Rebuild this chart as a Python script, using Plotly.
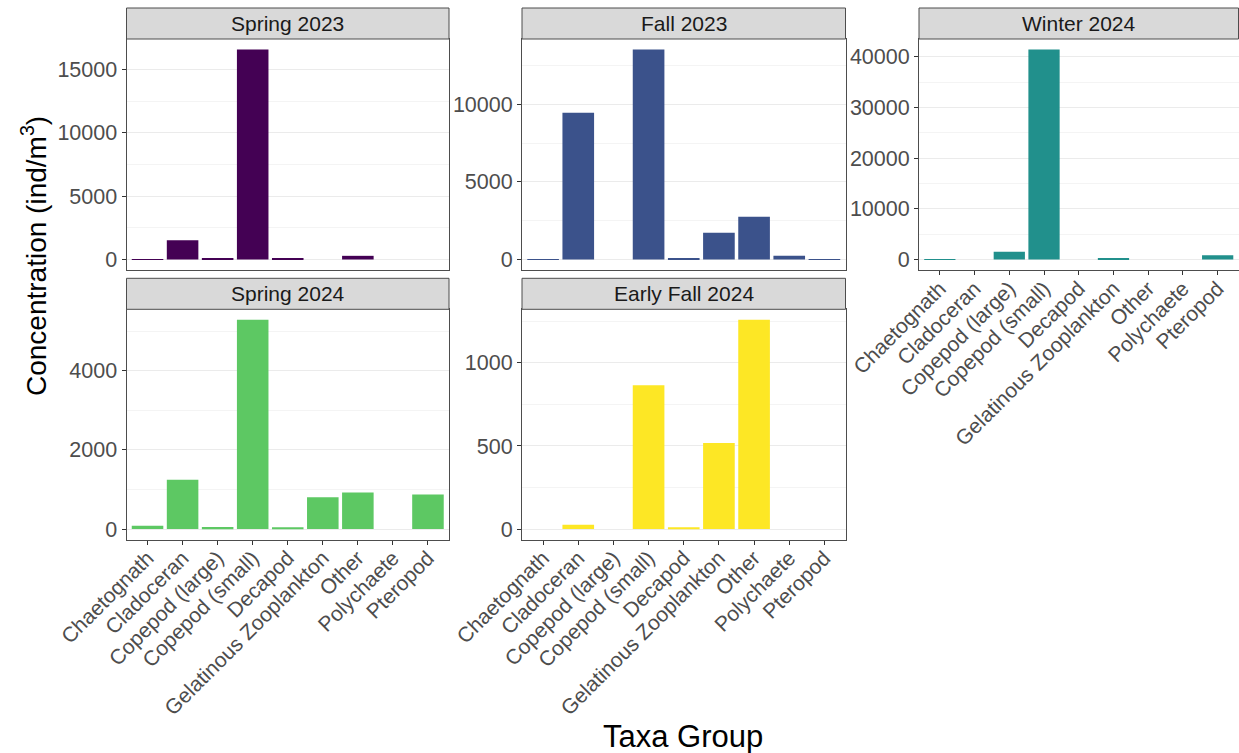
import plotly.graph_objects as go

# Taxa groups on the x axis (same order in every panel)
taxa = ["Chaetognath", "Cladoceran", "Copepod (large)", "Copepod (small)", "Decapod",
        "Gelatinous Zooplankton", "Other", "Polychaete", "Pteropod"]

# Concentration (ind/m^3) per taxa group for each sampling season
spring_2023 = [20, 1520, 45, 16580, 85, 0, 290, 0, 0]
fall_2023 = [15, 9460, 0, 13540, 90, 1720, 2750, 240, 15]
winter_2024 = [80, 0, 1510, 41420, 0, 200, 0, 0, 855]
spring_2024 = [85, 1245, 50, 5290, 25, 805, 925, 0, 875]
early_fall_2024 = [0, 26, 0, 866, 10, 518, 1260, 0, 0]

seasons = ["Spring 2023", "Fall 2023", "Winter 2024", "Spring 2024", "Early Fall 2024"]
season_values = [spring_2023, fall_2023, winter_2024, spring_2024, early_fall_2024]
season_colors = ["#440154", "#3B528B", "#21908C", "#5DC863", "#FDE725"]

# y-axis major / minor gridline values per panel
major_ticks = [[0, 5000, 10000, 15000], [0, 5000, 10000], [0, 10000, 20000, 30000, 40000],
               [0, 2000, 4000], [0, 500, 1000]]
minor_ticks = [[2500, 7500, 12500], [2500, 7500, 12500], [5000, 15000, 25000, 35000],
               [1000, 3000, 5000], [250, 750, 1250]]

W, H = 1239, 753
FONT = "Liberation Sans, Arial, sans-serif"

# panel geometry in pixels: (left, right) per column, (strip_top, plot_top, plot_bottom) per row
col_x = [(126.5, 449.0), (522.0, 845.5), (919.0, 1238.5)]
row_y = [(8.0, 39.0, 270.0), (278.3, 309.3, 539.5)]
panel_pos = [(0, 0), (1, 0), (2, 0), (0, 1), (1, 1)]
# panels whose x axis carries tick labels
labelled = [False, False, True, True, True]


def px_x(v):
    return v / W


def px_y(v):
    return 1 - v / H


fig = go.Figure()
shapes = []
annotations = []
layout_axes = {}

for i, (name, vals, col) in enumerate(zip(seasons, season_values, season_colors)):
    n = i + 1
    xa = "x" if n == 1 else f"x{n}"
    ya = "y" if n == 1 else f"y{n}"
    fig.add_trace(go.Bar(x=taxa, y=vals, marker=dict(color=col, line=dict(width=0)),
                         xaxis=xa, yaxis=ya, showlegend=False, width=0.9))

    c, r = panel_pos[i]
    x0, x1 = col_x[c]
    s_top, p_top, p_bot = row_y[r]
    ymax = max(vals)

    layout_axes["xaxis" if n == 1 else f"xaxis{n}"] = dict(
        domain=[px_x(x0), px_x(x1)], anchor=ya, type="category",
        categoryorder="array", categoryarray=taxa, range=[-0.6, 8.6],
        showgrid=False, zeroline=False, automargin=False,
        showline=True, mirror=True, linecolor="#4d4d4d", linewidth=1,
        showticklabels=labelled[i], ticks="outside" if labelled[i] else "",
        ticklen=4, tickcolor="#333333", tickwidth=1, tickangle=-45,
        ticklabelstandoff=-7,
        tickfont=dict(family=FONT, size=21, color="#4D4D4D"),
        fixedrange=True,
    )
    layout_axes["yaxis" if n == 1 else f"yaxis{n}"] = dict(
        domain=[px_y(p_bot), px_y(p_top)], anchor=xa,
        range=[-0.05 * ymax, 1.05 * ymax], automargin=False,
        tickmode="array", tickvals=major_ticks[i],
        ticktext=[str(v) for v in major_ticks[i]],
        showgrid=True, gridcolor="#EBEBEB", gridwidth=1, zeroline=False,
        minor=dict(tickvals=minor_ticks[i], showgrid=True, gridcolor="#F4F4F4",
                   gridwidth=1, ticks=""),
        showline=True, mirror=True, linecolor="#4d4d4d", linewidth=1,
        ticks="outside", ticklen=4, tickcolor="#333333", tickwidth=1,
        tickfont=dict(family=FONT, size=21.5, color="#4D4D4D"),
        fixedrange=True,
    )

    # facet strip
    shapes.append(dict(type="rect", xref="paper", yref="paper",
                       x0=px_x(x0), x1=px_x(x1), y0=px_y(p_top), y1=px_y(s_top),
                       fillcolor="#D9D9D9", line=dict(color="#4d4d4d", width=1),
                       layer="above"))
    annotations.append(dict(text=name, xref="paper", yref="paper",
                            x=px_x((x0 + x1) / 2), y=px_y((s_top + p_top) / 2),
                            xanchor="center", yanchor="middle", showarrow=False,
                            font=dict(family=FONT, size=21, color="#1A1A1A")))

# shared axis titles
annotations.append(dict(text="Taxa Group", xref="paper", yref="paper",
                        x=px_x(683), y=px_y(736), xanchor="center", yanchor="middle",
                        showarrow=False, font=dict(family=FONT, size=31, color="#000000")))
annotations.append(dict(text="Concentration (ind/m<sup>3</sup>)", xref="paper", yref="paper",
                        x=px_x(34), y=px_y(256), xanchor="center", yanchor="middle",
                        textangle=-90, showarrow=False,
                        font=dict(family=FONT, size=28, color="#000000")))

fig.update_layout(
    width=W, height=H,
    margin=dict(l=0, r=0, t=0, b=0, autoexpand=False),
    paper_bgcolor="white", plot_bgcolor="white",
    bargap=0.1,
    shapes=shapes, annotations=annotations,
    **layout_axes,
)

fig.write_html("out.html")
